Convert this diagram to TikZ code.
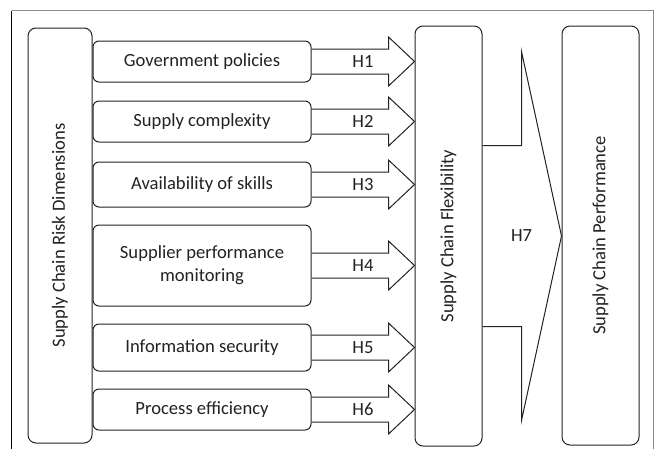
\documentclass[tikz,border=0pt]{standalone}
\usepackage{fontspec}
\setmainfont{Carlito}
\usetikzlibrary{calc}
\definecolor{ink}{HTML}{222222}
\definecolor{framegray}{HTML}{8C8C8C}
\begin{document}
\begin{tikzpicture}[x=1pt,y=-1pt,
  every node/.style={font=\fontsize{18.6}{23}\selectfont, text=ink},
  tallbox/.style={draw=ink, line width=1pt, rounded corners=8pt, inner sep=0pt},
  factor/.style={draw=ink, line width=1pt, rounded corners=6pt, inner sep=0pt,
                 minimum width=218pt, align=center},
  blockarrow/.style={draw=ink, line width=1pt, line join=miter},
]
\useasboundingbox (0,0) rectangle (660,448);

% outer frame (open at the bottom)
\draw[framegray, line width=1.6pt] (11.5,10.5) -- (653.5,10.5) -- (653.5,449);
\draw[black, line width=0.9pt] (11.5,10.5) -- (11.5,449);

% tall boxes
\node[tallbox, minimum width=64pt, minimum height=415pt] (L) at (60,235.5) {};
\node[rotate=90] at (L.center) {Supply Chain Risk Dimensions};
\node[tallbox, minimum width=67pt, minimum height=420pt] (F) at (448.5,236) {};
\node[rotate=90] at (F.center) {Supply Chain Flexibility};
\node[tallbox, minimum width=77pt, minimum height=419pt] (P) at (600.5,235.5) {};
\node[rotate=90] at (P.center) {Supply Chain Performance};

% risk factors
\node[factor, minimum height=41pt] (b1) at (202,61.5)  {Government policies};
\node[factor, minimum height=41pt] (b2) at (202,121.5) {Supply complexity};
\node[factor, minimum height=45pt] (b3) at (202,184.5) {Availability of skills};
\node[factor, minimum height=81pt] (b4) at (202,265.5) {Supplier performance\\monitoring};
\node[factor, minimum height=47pt] (b5) at (202,347.5) {Information security};
\node[factor, minimum height=41pt] (b6) at (202,409.5) {Process efficiency};

% block arrows H1--H6 into the flexibility box
\foreach \i/\h in {1/H1,2/H2,3/H3,4/H4,5/H5,6/H6}{
  \coordinate (t\i) at (F.west |- b\i.east);
  \draw[blockarrow] ($(b\i.east)+(0,-12.5)$) -- ($(t\i)+(-26,-12.5)$)
    -- ($(t\i)+(-26,-24.5)$) -- (t\i) -- ($(t\i)+(-26,24.5)$)
    -- ($(t\i)+(-26,12.5)$) -- ($(b\i.east)+(0,12.5)$);
  \node (h\i) at ($(b\i.east)!0.5!(t\i)$) {\h};
}

% block arrow H7 into the performance box
\coordinate (t7) at (P.west |- F.east);
\draw[blockarrow] ($(F.east)+(0,-90.5)$) -- ($(t7)+(-40,-90.5)$)
  -- ($(t7)+(-40,-184.5)$) -- (t7) -- ($(t7)+(-40,184.5)$)
  -- ($(t7)+(-40,90.5)$) -- ($(F.east)+(0,90.5)$);
\node (h7) at ($(t7)+(-40,0)$) {H7};
\end{tikzpicture}
\end{document}
